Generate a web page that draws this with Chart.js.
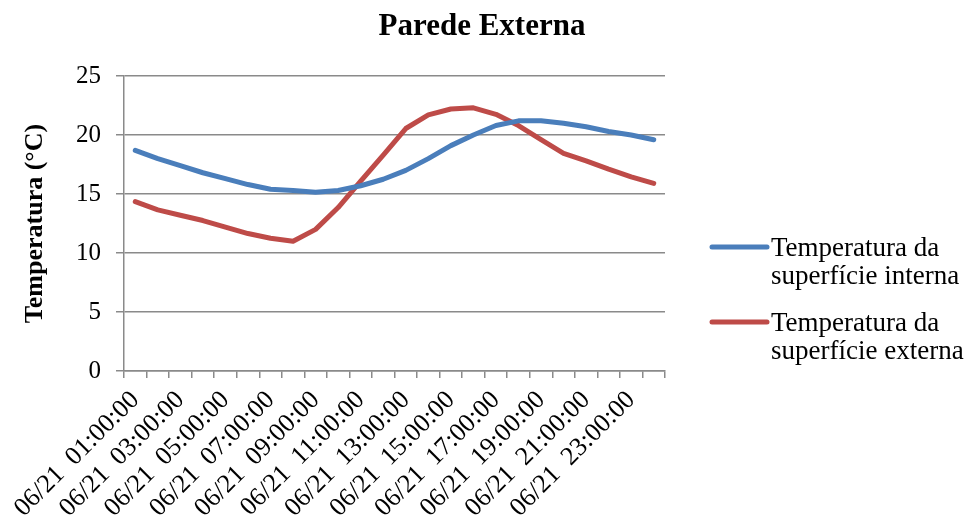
<!DOCTYPE html>
<html>
<head>
<meta charset="utf-8">
<script src="https://cdn.jsdelivr.net/npm/chart.js@4/dist/chart.umd.min.js"></script>
<style>
  html, body { margin: 0; padding: 0; background: #ffffff; }
  #wrap { width: 964px; height: 522px; position: relative; }
</style>
</head>
<body>
<div id="wrap"><canvas id="chart" width="964" height="522"></canvas></div>
<script>
// Hourly readings, 21 June
const categories = [
  '06/21  01:00:00', '06/21  02:00:00', '06/21  03:00:00', '06/21  04:00:00',
  '06/21  05:00:00', '06/21  06:00:00', '06/21  07:00:00', '06/21  08:00:00',
  '06/21  09:00:00', '06/21  10:00:00', '06/21  11:00:00', '06/21  12:00:00',
  '06/21  13:00:00', '06/21  14:00:00', '06/21  15:00:00', '06/21  16:00:00',
  '06/21  17:00:00', '06/21  18:00:00', '06/21  19:00:00', '06/21  20:00:00',
  '06/21  21:00:00', '06/21  22:00:00', '06/21  23:00:00', '06/21  24:00:00'
];

// Inner surface temperature (°C)
const superficieInterna = [
  18.7, 18.0, 17.4, 16.8, 16.3, 15.8, 15.4, 15.3,
  15.15, 15.3, 15.7, 16.25, 17.0, 18.0, 19.1, 20.0,
  20.8, 21.2, 21.2, 21.0, 20.7, 20.3, 20.0, 19.6
];

// Outer surface temperature (°C)
const superficieExterna = [
  14.35, 13.65, 13.2, 12.75, 12.2, 11.65, 11.25, 11.0,
  12.0, 13.85, 16.1, 18.3, 20.55, 21.7, 22.2, 22.3,
  21.75, 20.8, 19.6, 18.45, 17.8, 17.1, 16.45, 15.9
];

const yTicks = [0, 5, 10, 15, 20, 25];

const seriesNames = [
  ['Temperatura da', 'superfície interna'],
  ['Temperatura da', 'superfície externa']
];

const SERIF = '"Liberation Serif", "Times New Roman", serif';
const GRID = '#8a8a8a';

// Two-line legend drawn in the space kept free on the right
const sideLegend = {
  id: 'sideLegend',
  afterDraw(chart) {
    const ctx = chart.ctx;
    const x0 = 712, x1 = 767, textX = 771;
    const rows = [247, 322];
    ctx.save();
    chart.data.datasets.forEach((ds, i) => {
      const y = rows[i];
      ctx.strokeStyle = ds.borderColor;
      ctx.lineWidth = ds.borderWidth;
      ctx.lineCap = 'round';
      ctx.beginPath();
      ctx.moveTo(x0, y);
      ctx.lineTo(x1, y);
      ctx.stroke();
      ctx.fillStyle = '#000';
      ctx.font = '27px ' + SERIF;
      ctx.textAlign = 'left';
      ctx.textBaseline = 'alphabetic';
      ds.label.forEach((line, k) => {
        ctx.fillText(line, textX, y + 9 + k * 28);
      });
    });
    ctx.restore();
  }
};

new Chart(document.getElementById('chart'), {
  type: 'line',
  data: {
    labels: categories,
    datasets: [
      {
        label: seriesNames[0],
        data: superficieInterna,
        borderColor: '#4A7EBB',
        backgroundColor: '#4A7EBB',
        borderWidth: 5,
        pointRadius: 0,
        tension: 0,
        borderCapStyle: 'round',
        borderJoinStyle: 'round'
      },
      {
        label: seriesNames[1],
        data: superficieExterna,
        borderColor: '#BE4B48',
        backgroundColor: '#BE4B48',
        borderWidth: 5,
        pointRadius: 0,
        tension: 0,
        borderCapStyle: 'round',
        borderJoinStyle: 'round'
      }
    ]
  },
  options: {
    responsive: false,
    animation: false,
    devicePixelRatio: 1,
    layout: { padding: 0 },
    plugins: {
      legend: { display: false },
      tooltip: { enabled: false },
      title: {
        display: true,
        text: 'Parede Externa',
        color: '#000',
        font: { family: SERIF, size: 31, weight: 'bold', lineHeight: 1.2 },
        padding: { top: 8, bottom: 30.8 }
      }
    },
    scales: {
      x: {
        offset: true,
        grid: {
          display: true,
          offset: true,
          drawOnChartArea: false,
          drawTicks: true,
          tickLength: 7,
          color: GRID,
          lineWidth: 1.5
        },
        border: { display: true, color: GRID, width: 1.5 },
        ticks: {
          autoSkip: false,
          minRotation: 45,
          maxRotation: 45,
          padding: 7,
          color: '#000',
          font: { family: SERIF, size: 26 },
          callback: function (value, index) {
            return index % 2 === 0 ? this.getLabelForValue(value) : '';
          }
        },
        afterFit(scale) { scale.height = 151; }
      },
      y: {
        min: yTicks[0],
        max: yTicks[yTicks.length - 1],
        grid: {
          color: GRID,
          lineWidth: 1.5,
          drawTicks: true,
          tickLength: 8
        },
        border: { display: true, color: GRID, width: 1.5 },
        afterBuildTicks(scale) { scale.ticks = yTicks.map(v => ({ value: v })); },
        ticks: {
          padding: 15,
          color: '#000',
          font: { family: SERIF, size: 25 }
        },
        title: {
          display: true,
          text: 'Temperatura (°C)',
          color: '#000',
          font: { family: SERIF, size: 26, weight: 'bold', lineHeight: 1.2 },
          padding: { top: 20, bottom: 0 }
        },
        afterFit(scale) { scale.width = 124; }
      },
      // empty right-hand scale that keeps room for the legend
      legendSpace: {
        type: 'linear',
        position: 'right',
        display: true,
        grid: { display: false, drawTicks: false },
        border: { display: false },
        ticks: { display: false },
        afterFit(scale) { scale.width = 299; }
      }
    }
  },
  plugins: [sideLegend]
});
</script>
</body>
</html>
